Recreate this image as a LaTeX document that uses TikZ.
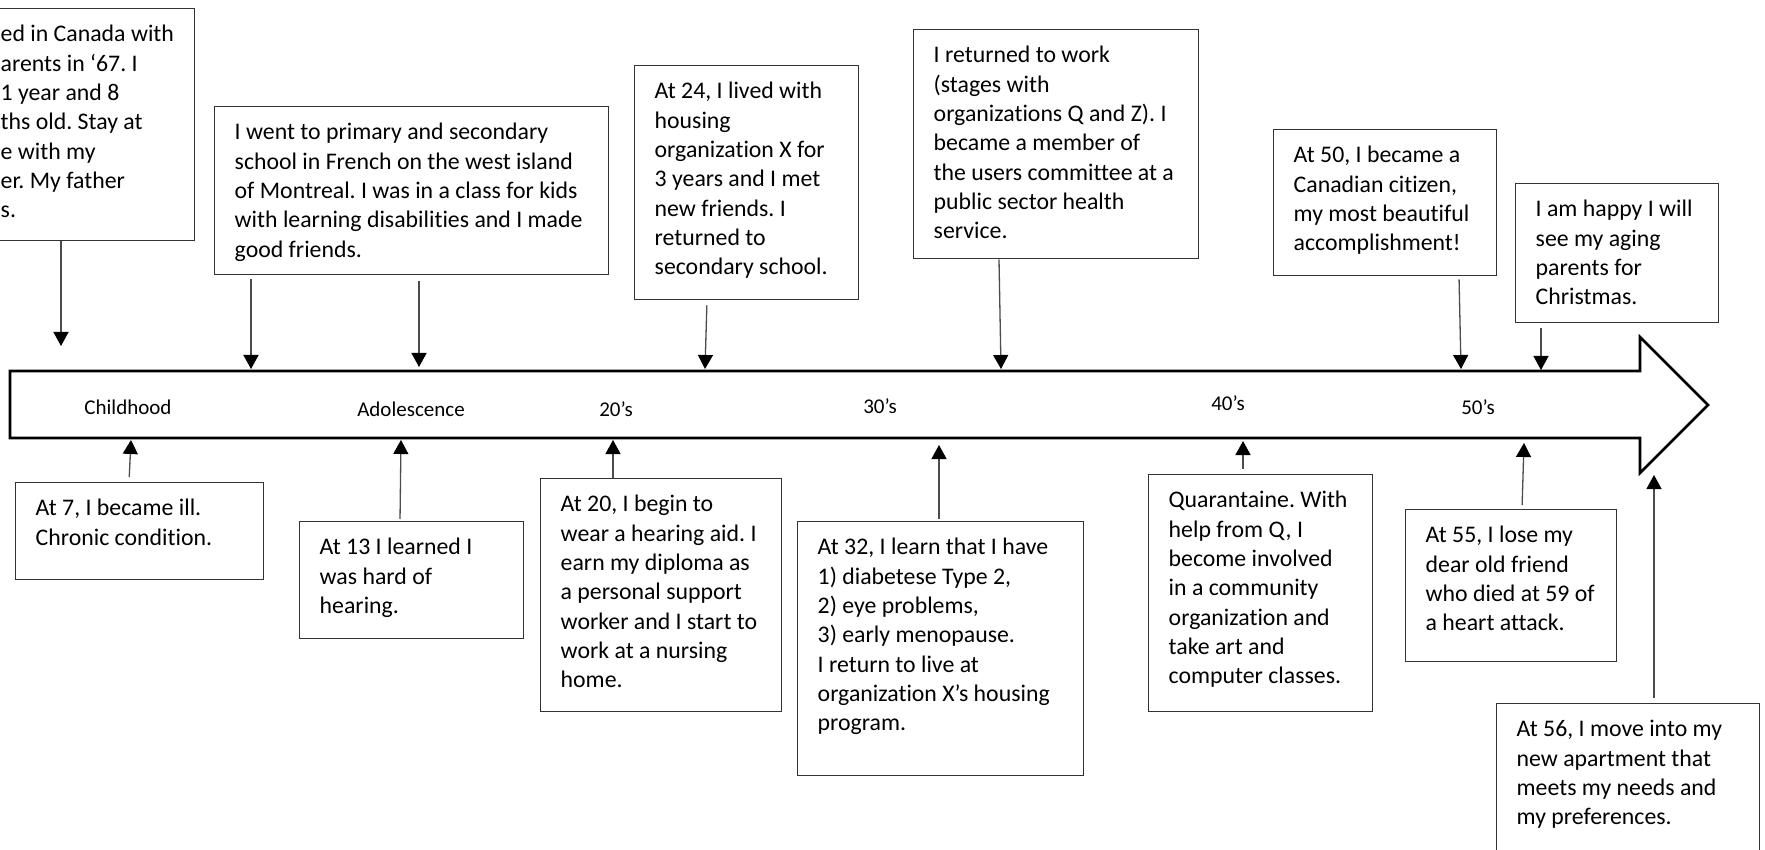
\documentclass[tikz,border=0pt]{standalone}
\usepackage{fontspec}
\setmainfont{Carlito}[Ligatures={NoCommon}]
\usetikzlibrary{arrows.meta}
\frenchspacing
\newcommand{\evtxt}[3]{\parbox[c][#2pt][t]{#1pt}{\noindent\begin{tabular}[t]{@{}l@{}}#3\end{tabular}}}
\tikzset{
  evbox/.style={draw=black!80, line width=1.4pt, fill=white, anchor=north west,
    inner xsep=20pt, inner ysep=12.7pt, font=\fontsize{23.8}{29.3}\selectfont},
  conn/.style={draw=black!70, line width=1.3pt, -{Triangle[length=14pt,width=15pt,color=black]}},
  era/.style={anchor=base, inner sep=0pt, font=\fontsize{21}{25}\selectfont},
  timeline/.style={draw=black, line width=2.6pt, fill=white, line join=miter}
}
\begin{document}
\begin{tikzpicture}[x=1pt,y=-1pt]
\useasboundingbox[fill=white] (0,0) rectangle (1765,850);

% timeline arrow
\draw[timeline] (10,371) -- (1640,371) -- (1640,337) -- (1708,405) -- (1640,473)
  -- (1640,438) -- (10,438) -- cycle;

% era labels
\node[era] (childhood) at (128,414) {Childhood};
\node[era] (adolescence) at (411,416) {Adolescence};
\node[era] (twenties) at (616,417) {20’s};
\node[era] (thirties) at (880,413) {30’s};
\node[era] (forties) at (1228,410) {40’s};
\node[era] (fifties) at (1478,414) {50’s};

% boxes above
\node[evbox] (b1) at (-20,8) {\evtxt{174}{206.6}{ed in Canada with\\ arents in ‘67. I\\ 1 year and 8\\ ths old. Stay at\\ e with my\\ er. My father\\ s.}};
\node[evbox] (b2) at (214,106) {\evtxt{354}{142.6}{I went to primary and secondary\\ school in French on the west island\\ of Montreal. I was in a class for kids\\ with learning disabilities and I made\\ good friends.}};
\node[evbox] (b3) at (634,65) {\evtxt{184}{208.6}{At 24, I lived with\\ housing\\ organization X for\\ 3 years and I met\\ new friends. I\\ returned to\\ secondary school.}};
\node[evbox] (b4) at (913,29) {\evtxt{245}{203.6}{I returned to work\\ (stages with\\ organizations Q and Z). I\\ became a member of\\ the users committee at a\\ public sector health\\ service.}};
\node[evbox] (b5) at (1273,129) {\evtxt{183}{120.6}{At 50, I became a\\ Canadian citizen,\\ my most beautiful\\ accomplishment!}};
\node[evbox] (b6) at (1515,183) {\evtxt{163}{113.6}{I am happy I will\\ see my aging\\ parents for\\ Christmas.}};

% boxes below
\node[evbox] (b7) at (15,482) {\evtxt{208}{71.6}{At 7, I became ill.\\ Chronic condition.}};
\node[evbox] (b8) at (299,521) {\evtxt{184}{91.6}{At 13 I learned I\\ was hard of\\ hearing.}};
\node[evbox] (b9) at (540,478) {\evtxt{201}{207.6}{At 20, I begin to\\ wear a hearing aid. I\\ earn my diploma as\\ a personal support\\ worker and I start to\\ work at a nursing\\ home.}};
\node[evbox] (b10) at (797,521) {\evtxt{246}{228.6}{At 32, I learn that I have\\ 1) diabetese Type 2,\\ 2) eye problems,\\ 3) early menopause.\\ I return to live at\\ organization X’s housing\\ program.}};
\node[evbox] (b11) at (1148,474) {\evtxt{184}{211.6}{Quarantaine. With\\ help from Q, I\\ become involved\\ in a community\\ organization and\\ take art and\\ computer classes.}};
\node[evbox] (b12) at (1405,509) {\evtxt{171}{126.6}{At 55, I lose my\\ dear old friend\\ who died at 59 of\\ a heart attack.}};
\node[evbox] (b13) at (1496,703) {\evtxt{223}{141.6}{At 56, I move into my\\ new apartment that\\ meets my needs and\\ my preferences.}};

% connector end points
\coordinate (e1) at (61,346);
\coordinate (e2a) at (251,369);
\coordinate (e2b) at (419,367);
\coordinate (e3) at (705,369);
\coordinate (e4) at (1001,369);
\coordinate (e5) at (1461,369);
\coordinate (e6) at (1541,370);
\coordinate (e7) at (131,440);
\coordinate (e8) at (401,440);
\coordinate (e9) at (613,440);
\coordinate (e10) at (939,445);
\coordinate (e11) at (1243,441);
\coordinate (e12) at (1524,443);
\coordinate (e13) at (1654,475);

% connectors
\draw[conn] (b1.south -| 61,0) -- (e1);
\draw[conn, shorten <=4pt] (b2.south -| 251,0) -- (e2a);
\draw[conn, shorten <=6pt] (b2.south -| 419,0) -- (e2b);
\draw[conn, shorten <=5pt] (b3.south -| 707,0) -- (e3);
\draw[conn] (b4.south -| 999,0) -- (e4);
\draw[conn, shorten <=3pt] (b5.south -| 1459,0) -- (e5);
\draw[conn, shorten <=5pt] (b6.south -| 1541,0) -- (e6);
\draw[conn, shorten <=5pt] (b7.north -| 129,0) -- (e7);
\draw[conn, shorten <=2pt] (b8.north -| 400,0) -- (e8);
\draw[conn] (b9.north -| 613,0) -- (e9);
\draw[conn, shorten <=2pt] (b10.north -| 939,0) -- (e10);
\draw[conn, shorten <=5pt] (b11.north -| 1243,0) -- (e11);
\draw[conn, shorten <=4pt] (b12.north -| 1522,0) -- (e12);
\draw[conn, shorten <=5pt] (b13.north -| 1654,0) -- (e13);
\end{tikzpicture}
\end{document}
